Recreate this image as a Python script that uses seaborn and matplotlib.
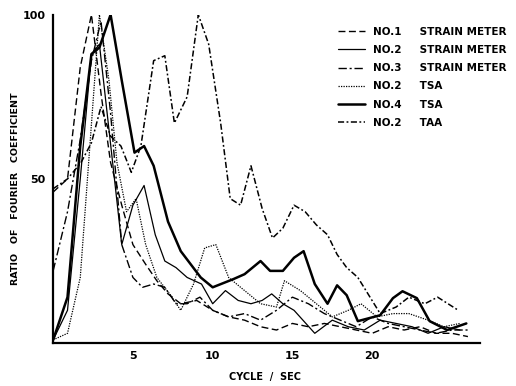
import matplotlib
matplotlib.use("Agg")
import matplotlib.pyplot as plt
import seaborn as sns
import pandas as pd

# ---- data ----
x_no1_sm = [0, 0.9, 1.7, 2.4, 3.0, 3.6, 4.3, 5.0, 5.8, 6.5, 7.2, 8.0, 9.0, 10.0, 11.0, 12.0,
            13.0, 14.0, 15.0, 16.0, 17.0, 18.0, 19.0, 20.0, 21.0, 22.0, 23.0, 24.0, 25.0, 26.0]
y_no1_sm = [46, 50, 84, 100, 76, 55, 42, 30, 24, 19, 15, 12, 13, 10, 8, 7,
            5, 4, 6, 5, 6, 5, 4, 3, 5, 4, 5, 3, 3, 2]

x_no2_sm = [0, 0.9, 1.7, 2.4, 2.9, 3.5, 4.3, 5.0, 5.7, 6.4, 7.0, 7.7, 8.4, 9.3, 10.0, 10.8,
            11.6, 12.4, 13.1, 13.7, 14.4, 15.1, 16.4, 17.5, 18.5, 19.5, 20.5, 21.5, 22.5,
            23.5, 24.5, 25.5]
y_no2_sm = [1, 10, 50, 88, 91, 65, 30, 42, 48, 33, 25, 23, 20, 18, 12, 16,
            13, 12, 13, 15, 12, 10, 3, 7, 5, 4, 7, 6, 5, 3, 5, 4]

x_no3_sm = [0, 0.9, 1.7, 2.4, 3.0, 3.6, 4.3, 5.0, 5.6, 6.3, 7.0, 7.7, 8.4, 9.2, 10.0, 11.0,
            12.0, 13.0, 14.0, 15.0, 16.0, 17.0, 18.0, 19.0, 20.0, 21.0, 22.0, 23.0, 24.0,
            25.0, 26.0]
y_no3_sm = [22, 40, 62, 86, 98, 70, 30, 20, 17, 18, 17, 12, 12, 14, 10, 8,
            9, 7, 10, 14, 12, 9, 7, 5, 8, 6, 5, 4, 3, 4, 4]

x_no2_tsa = [0, 0.9, 1.7, 2.3, 2.9, 3.5, 4.0, 4.6, 5.2, 5.8, 6.5, 7.3, 8.0, 8.8, 9.5, 10.2,
             11.0, 12.0, 13.0, 14.0, 14.5, 15.5, 16.5, 17.5, 18.5, 19.3, 20.3, 21.3, 22.3,
             23.5, 24.5, 25.5]
y_no2_tsa = [1, 3, 20, 60, 100, 80, 55, 40, 44, 30, 20, 15, 10, 18, 29, 30,
             20, 16, 12, 11, 19, 16, 12, 8, 10, 12, 8, 9, 9, 7, 5, 6]

x_no4_tsa = [0, 0.9, 1.7, 2.4, 2.9, 3.6, 4.3, 5.1, 5.7, 6.3, 7.2, 8.0, 9.25, 10.0, 11.3,
             12.0, 13.0, 13.6, 14.4, 15.1, 15.7, 16.4, 17.2, 17.8, 18.4, 19.1, 20.5, 21.3,
             21.9, 22.8, 23.6, 24.7, 25.9]
y_no4_tsa = [1, 14, 60, 88, 90, 100, 80, 58, 60, 54, 37, 28, 20, 17, 19.5,
             21, 25, 22, 22, 26, 28, 18, 12, 17.6, 14.6, 6.7, 8.5, 13.7,
             15.8, 13.7, 6.7, 4, 6]

x_no2_taa = [0, 0.9, 1.75, 2.4, 3.0, 3.6, 4.25, 4.9, 5.5, 6.3, 7.0, 7.6, 8.4, 9.1, 9.75,
             10.5, 11.1, 11.75, 12.4, 13.1, 13.75, 14.4, 15.1, 15.8, 16.5, 17.2, 17.8,
             18.4, 19.1, 20.5, 21.5, 22.3, 23.3, 24.1, 25.4]
y_no2_taa = [47, 50, 55, 61, 72, 63, 60, 52, 60, 86, 87.5, 67, 75, 100, 91,
             67, 44, 42, 54, 41, 32, 35, 42, 40, 36, 33, 27,
             23, 20, 9, 11, 14, 12, 14, 10]

series_names = ["NO.1     STRAIN METER", "NO.2     STRAIN METER", "NO.3     STRAIN METER",
                "NO.2     TSA", "NO.4     TSA", "NO.2     TAA"]
x_ticks = [5, 10, 15, 20]
y_ticks = [50, 100]

xs = [x_no1_sm, x_no2_sm, x_no3_sm, x_no2_tsa, x_no4_tsa, x_no2_taa]
ys = [y_no1_sm, y_no2_sm, y_no3_sm, y_no2_tsa, y_no4_tsa, y_no2_taa]

styles = [
    dict(linestyle=(0, (5, 2.5)), linewidth=1.0),
    dict(linestyle="-", linewidth=0.9),
    dict(linestyle=(0, (6, 2, 1.5, 2)), linewidth=1.0),
    dict(linestyle=(0, (1, 1)), linewidth=0.9),
    dict(linestyle="-", linewidth=1.8),
    dict(linestyle=(0, (4, 1.6, 1.2, 1.6)), linewidth=1.1),
]

sns.set_style("white")
plt.rcParams["font.family"] = ["DejaVu Sans"]
plt.rcParams["text.color"] = "black"
plt.rcParams["axes.labelcolor"] = "black"
plt.rcParams["xtick.color"] = "black"
plt.rcParams["ytick.color"] = "black"

fig = plt.figure(figsize=(5.16, 3.86), dpi=100)
ax = fig.add_axes([0.103, 0.111, 0.827, 0.851])

for name, x, y, st in zip(series_names, xs, ys, styles):
    df = pd.DataFrame({"x": x, "y": y})
    sns.lineplot(data=df, x="x", y="y", ax=ax, color="black", label=name,
                 estimator=None, sort=False, **st)

ax.set_xlim(0, 26.75)
ax.set_ylim(0, 100)
ax.set_xticks(x_ticks)
ax.set_yticks(y_ticks)
ax.set_xticklabels([str(t) for t in x_ticks], fontsize=8, fontweight="bold", color="black")
ax.set_yticklabels([str(t) for t in y_ticks], fontsize=8, fontweight="bold", color="black")
ax.tick_params(axis="both", direction="out", length=4, width=1.2, color="black",
               labelcolor="black", pad=1.5)

for s in ["top", "right"]:
    ax.spines[s].set_visible(False)
for s in ["left", "bottom"]:
    ax.spines[s].set_color("black")
    ax.spines[s].set_linewidth(1.6)

ax.set_xlabel("CYCLE  /  SEC", fontsize=7, fontweight="bold", color="black")
ax.set_ylabel("RATIO   OF   FOURIER   COEFFICIENT", fontsize=6.8, fontweight="bold",
              color="black")
ax.xaxis.set_label_coords(0.497, -0.088)
ax.yaxis.set_label_coords(-0.078, 0.47)

leg = ax.legend(loc="upper left", bbox_to_anchor=(338 / 516, 1 - 27 / 386),
                bbox_transform=fig.transFigure, frameon=False, borderpad=0,
                borderaxespad=0, handlelength=2.6, handletextpad=0.8,
                labelspacing=0.78, prop={"weight": "bold", "size": 7.5})
for line in leg.get_lines():
    line.set_color("black")
for t in leg.get_texts():
    t.set_color("black")

fig.savefig("out.png", dpi=100, facecolor="white")
